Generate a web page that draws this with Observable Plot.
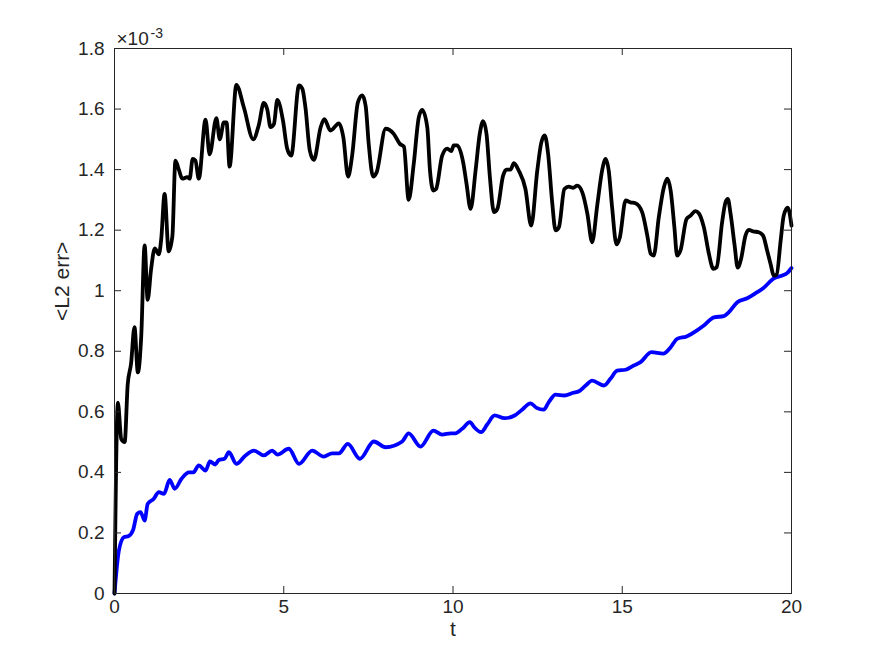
<!DOCTYPE html>
<html>
<head>
<meta charset="utf-8">
<script src="https://cdn.jsdelivr.net/npm/d3@7"></script>
<script src="https://cdn.jsdelivr.net/npm/@observablehq/plot@0.6"></script>
<style>
  html, body { margin: 0; padding: 0; background: #ffffff; }
</style>
</head>
<body>
<div id="chart"></div>
<script>
// ---- data (values in units of 1e-3) ----
const blackT = [0, 0.10, 0.20, 0.30, 0.39, 0.49, 0.59, 0.69, 0.79, 0.89, 0.98, 1.08, 1.19, 1.31, 1.38, 1.48, 1.60, 1.71, 1.80, 1.90,
  2.00, 2.15, 2.22, 2.31, 2.39, 2.49, 2.69, 2.81, 3.01, 3.11, 3.23, 3.31, 3.40, 3.60, 3.82, 4.10, 4.26, 4.41, 4.51, 4.61,
  4.71, 4.81, 4.98, 5.10, 5.22, 5.45, 5.55, 5.64, 5.77, 5.89, 6.09, 6.20, 6.38, 6.63, 6.76, 6.90, 7.02, 7.19, 7.32, 7.42,
  7.51, 7.64, 7.74, 8.01, 8.25, 8.43, 8.55, 8.69, 8.84, 8.99, 9.09, 9.24, 9.32, 9.42, 9.50, 9.68, 9.83, 9.95, 10.02, 10.12,
  10.30, 10.40, 10.52, 10.67, 10.79, 10.89, 10.99, 11.09, 11.21, 11.31, 11.48, 11.58, 11.70, 11.80, 11.94, 12.14, 12.31, 12.49, 12.61, 12.71,
  12.81, 12.93, 13.03, 13.13, 13.29, 13.42, 13.55, 13.67, 13.82, 13.97, 14.11, 14.26, 14.41, 14.51, 14.60, 14.70, 14.83, 14.93, 15.10, 15.24,
  15.39, 15.59, 15.74, 15.84, 15.93, 16.08, 16.23, 16.33, 16.43, 16.54, 16.62, 16.72, 16.90, 17.02, 17.16, 17.26, 17.41, 17.56, 17.69, 17.79,
  17.95, 18.05, 18.12, 18.20, 18.32, 18.41, 18.51, 18.64, 18.74, 18.87, 19.03, 19.16, 19.28, 19.38, 19.48, 19.56, 19.68, 19.77, 19.89, 20.00];
const blackV = [0, 0.63, 0.51, 0.50, 0.69, 0.76, 0.88, 0.73, 0.85, 1.15, 0.97, 1.07, 1.14, 1.12, 1.17, 1.32, 1.13, 1.18, 1.43, 1.40,
  1.37, 1.375, 1.37, 1.435, 1.43, 1.37, 1.565, 1.45, 1.57, 1.50, 1.556, 1.556, 1.41, 1.68, 1.606, 1.50, 1.546, 1.62, 1.60, 1.54,
  1.55, 1.63, 1.56, 1.47, 1.446, 1.678, 1.667, 1.606, 1.463, 1.432, 1.54, 1.567, 1.529, 1.553, 1.507, 1.377, 1.446, 1.622, 1.645, 1.61,
  1.485, 1.377, 1.39, 1.535, 1.518, 1.485, 1.476, 1.30, 1.419, 1.573, 1.597, 1.54, 1.397, 1.331, 1.336, 1.446, 1.469, 1.461, 1.48, 1.48,
  1.424, 1.353, 1.27, 1.40, 1.518, 1.56, 1.518, 1.375, 1.26, 1.27, 1.38, 1.40, 1.40, 1.421, 1.397, 1.336, 1.215, 1.397, 1.49, 1.513,
  1.452, 1.292, 1.199, 1.21, 1.336, 1.344, 1.34, 1.347, 1.325, 1.254, 1.16, 1.281, 1.40, 1.435, 1.397, 1.276, 1.153, 1.177, 1.298, 1.292,
  1.289, 1.259, 1.182, 1.122, 1.116, 1.243, 1.342, 1.37, 1.331, 1.21, 1.116, 1.133, 1.237, 1.248, 1.263, 1.256, 1.21, 1.122, 1.072, 1.078,
  1.226, 1.292, 1.303, 1.254, 1.149, 1.076, 1.105, 1.182, 1.201, 1.196, 1.193, 1.182, 1.133, 1.089, 1.05, 1.053, 1.166, 1.248, 1.274, 1.215];

const blueT = [0, 0.13, 0.28, 0.42, 0.55, 0.67, 0.77, 0.89, 0.98, 1.16, 1.31, 1.46, 1.63, 1.78, 1.98, 2.20, 2.33, 2.49, 2.69, 2.82,
  2.98, 3.08, 3.25, 3.38, 3.60, 3.87, 4.12, 4.41, 4.66, 4.81, 5.15, 5.45, 5.84, 6.18, 6.43, 6.63, 6.89, 7.25, 7.66, 8.01,
  8.50, 8.69, 9.04, 9.42, 9.68, 9.93, 10.07, 10.27, 10.50, 10.62, 10.83, 11.01, 11.23, 11.52, 11.82, 12.04, 12.29, 12.47, 12.68, 12.83,
  13.03, 13.29, 13.55, 13.72, 13.92, 14.11, 14.46, 14.65, 14.85, 15.10, 15.34, 15.54, 15.86, 16.21, 16.43, 16.62, 16.90, 17.21, 17.41, 17.71,
  18.00, 18.15, 18.40, 18.69, 18.94, 19.18, 19.48, 19.73, 19.87, 20.00];
const blueV = [0, 0.142, 0.186, 0.19, 0.21, 0.263, 0.269, 0.241, 0.296, 0.313, 0.335, 0.329, 0.375, 0.346, 0.379, 0.40, 0.40, 0.423, 0.406, 0.436,
  0.426, 0.441, 0.445, 0.467, 0.428, 0.456, 0.472, 0.456, 0.472, 0.459, 0.478, 0.428, 0.472, 0.452, 0.463, 0.463, 0.494, 0.445, 0.502, 0.483,
  0.502, 0.529, 0.485, 0.538, 0.525, 0.529, 0.529, 0.544, 0.566, 0.55, 0.533, 0.558, 0.588, 0.579, 0.588, 0.607, 0.628, 0.613, 0.607, 0.632,
  0.657, 0.654, 0.663, 0.668, 0.687, 0.703, 0.687, 0.709, 0.736, 0.739, 0.753, 0.764, 0.797, 0.792, 0.813, 0.841, 0.849, 0.869, 0.885, 0.912,
  0.916, 0.929, 0.962, 0.975, 0.992, 1.010, 1.041, 1.050, 1.058, 1.075];

const xTicks = [0, 5, 10, 15, 20];
const yTicks = [0, 0.2, 0.4, 0.6, 0.8, 1, 1.2, 1.4, 1.6, 1.8];
const xLabel = "t";
const yLabel = "<L2 err>";
const expBase = "×10";
const expPower = "-3";

// ---- layout ----
const W = 875, H = 656;
const mL = 114, mR = 84, mT = 48, mB = 63;
const innerW = W - mL - mR, innerH = H - mT - mB;
const tickLen = 7;
const axisColor = "#262626";
const font = "'Liberation Sans', Arial, Helvetica, sans-serif";

const black = blackT.map((t, i) => ({t, v: blackV[i]}));
const blue = blueT.map((t, i) => ({t, v: blueV[i]}));

const chart = Plot.plot({
  width: W,
  height: H,
  marginLeft: mL,
  marginRight: mR,
  marginTop: mT,
  marginBottom: mB,
  style: {fontFamily: font, fontSize: "19px", color: axisColor, background: "#ffffff"},
  x: {domain: [0, 20]},
  y: {domain: [0, 1.8]},
  marks: [
    Plot.line(blue, {x: "t", y: "v", curve: "monotone-x", stroke: "#0000ff", strokeWidth: 3.8, strokeLinejoin: "round", strokeLinecap: "round"}),
    Plot.line(black, {x: "t", y: "v", curve: "monotone-x", stroke: "#000000", strokeWidth: 3.8, strokeLinejoin: "round", strokeLinecap: "round"}),
    // inward ticks (bottom, top, left, right)
    Plot.tickX(xTicks, {x: d => d, stroke: axisColor, insetTop: innerH - tickLen}),
    Plot.tickX(xTicks, {x: d => d, stroke: axisColor, insetBottom: innerH - tickLen}),
    Plot.tickY(yTicks, {y: d => d, stroke: axisColor, insetRight: innerW - tickLen}),
    Plot.tickY(yTicks, {y: d => d, stroke: axisColor, insetLeft: innerW - tickLen}),
    Plot.frame({stroke: axisColor, strokeWidth: 1}),
    Plot.axisX({ticks: xTicks, tickSize: 0, tickPadding: 6, tickFormat: d => String(d), label: null, fontSize: 19, fill: axisColor}),
    Plot.axisY({ticks: yTicks, tickSize: 0, tickPadding: 10, tickFormat: d => String(d), label: null, fontSize: 19, fill: axisColor}),
    Plot.text([xLabel], {frameAnchor: "bottom", dy: 42, fontSize: 21, fill: axisColor}),
    Plot.text([yLabel], {frameAnchor: "left", rotate: -90, dx: -52, fontSize: 21, fill: axisColor}),
    Plot.text([expBase], {frameAnchor: "top-left", textAnchor: "start", lineAnchor: "bottom", dx: 2, dy: -4, fontSize: 19, fill: axisColor}),
    Plot.text([expPower], {frameAnchor: "top-left", textAnchor: "start", lineAnchor: "bottom", dx: 36, dy: -11, fontSize: 14, fill: axisColor})
  ]
});

document.getElementById("chart").appendChild(chart);
</script>
</body>
</html>
